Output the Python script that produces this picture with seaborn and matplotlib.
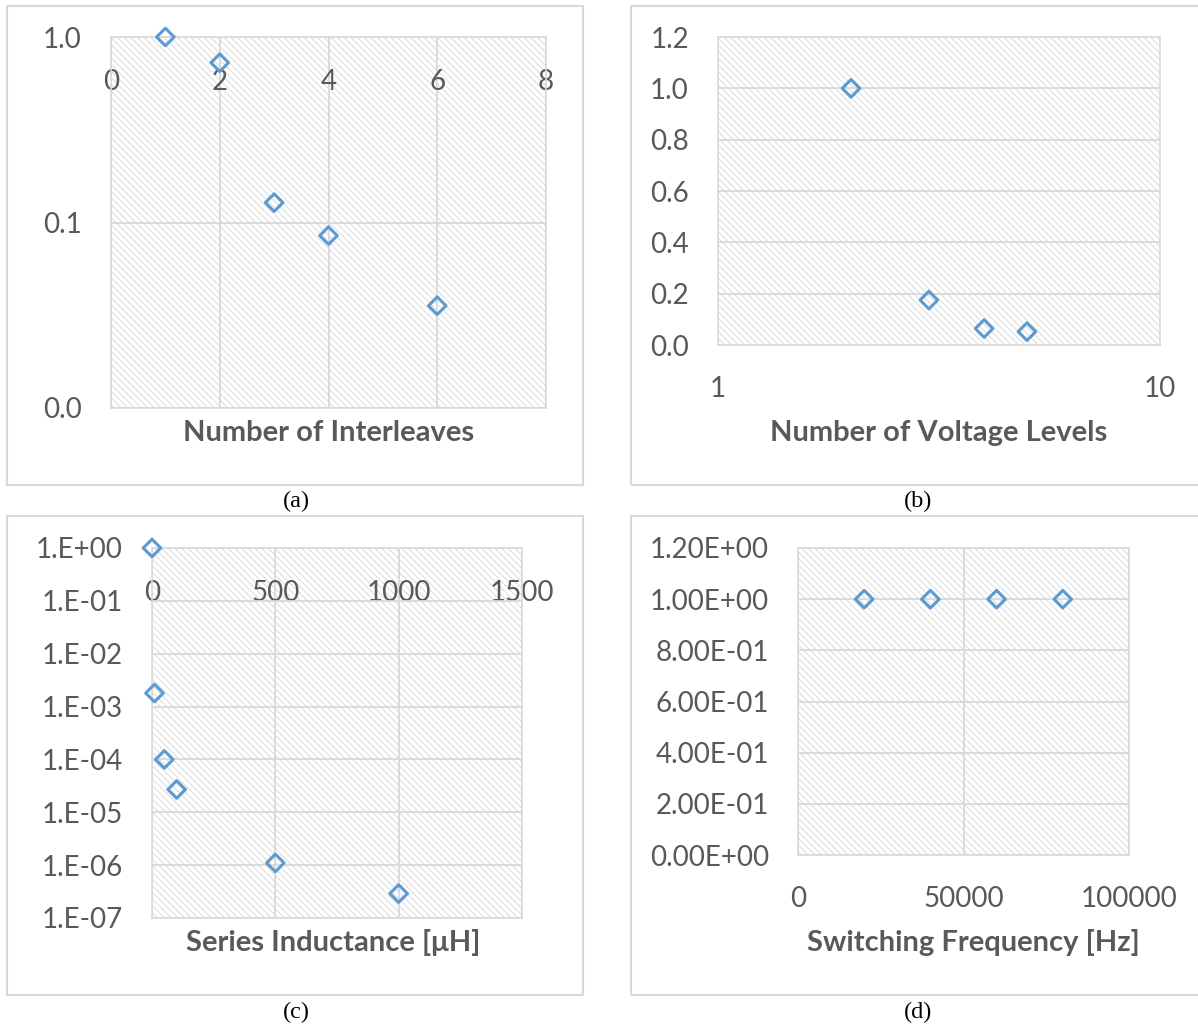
import numpy as np
import seaborn as sns
import matplotlib.pyplot as plt
import matplotlib.ticker as ticker
from matplotlib.patches import Rectangle

# (a) number of interleaves
interleaves = [1, 2, 3, 4, 6]
interleave_vals = [1.0, 0.727, 0.128, 0.085, 0.0356]

# (b) number of voltage levels
levels = [2, 3, 4, 5]
level_vals = [1.0, 0.175, 0.064, 0.052]

# (c) series inductance [uH]
inductance = [0, 10, 50, 100, 500, 1000]
inductance_vals = [1.0, 1.8e-3, 1.0e-4, 2.7e-5, 1.1e-6, 2.9e-7]

# (d) switching frequency [Hz]
frequency = [20000, 40000, 60000, 80000]
frequency_vals = [1.0, 1.0, 1.0, 1.0]

captions = ['(a)', '(b)', '(c)', '(d)']
xlabels = ['Number of Interleaves', 'Number of Voltage Levels',
           'Series Inductance [μH]', 'Switching Frequency [Hz]']

BLUE = '#5B9BD5'
GREY_TXT = '#595959'
GRID = '#d9d9d9'
HATCH = '#d4d4d4'

sns.set_style('white')
plt.rcParams['font.family'] = ['Lato', 'DejaVu Sans']
plt.rcParams['hatch.color'] = HATCH
plt.rcParams['hatch.linewidth'] = 0.6

W, H = 1198, 1027
fig = plt.figure(figsize=(W / 100, H / 100), dpi=100)


def px_axes(x0, y0, x1, y1):
    return fig.add_axes([x0 / W, 1 - y1 / H, (x1 - x0) / W, (y1 - y0) / H])


def px_box(x0, y0, x1, y1):
    fig.add_artist(Rectangle((x0 / W, 1 - y1 / H), (x1 - x0) / W, (y1 - y0) / H,
                             transform=fig.transFigure, fill=False,
                             edgecolor=GRID, linewidth=1.5))


# outer chart frames
px_box(7, 6, 583, 485)
px_box(631, 6, 1210, 485)
px_box(7, 516, 583, 995)
px_box(631, 516, 1210, 995)

# captions
for (cx, cy), cap in zip([(296, 501), (918, 501), (296, 1012), (918, 1012)], captions):
    fig.text(cx / W, 1 - cy / H, cap, ha='center', va='center',
             fontsize=17.5, family='Liberation Serif', color='black')

ax_a = px_axes(111, 37, 546, 408)
ax_b = px_axes(718, 37, 1160, 345)
ax_c = px_axes(152, 548, 522, 918)
ax_d = px_axes(798, 548, 1129, 855)

series = [(ax_a, interleaves, interleave_vals),
          (ax_b, levels, level_vals),
          (ax_c, inductance, inductance_vals),
          (ax_d, frequency, frequency_vals)]

for ax, xs, ys in series:
    ax.patch.set_facecolor('white')
    # hatched plot-area fill like the Excel pattern
    ax.add_patch(Rectangle((0, 0), 1, 1, transform=ax.transAxes,
                           facecolor='none', edgecolor=HATCH, linewidth=0,
                           hatch='\\\\\\\\\\', zorder=0.2))
    for sp in ax.spines.values():
        sp.set_visible(True)
        sp.set_color(GRID)
        sp.set_linewidth(1.2)
    sns.scatterplot(x=xs, y=ys, ax=ax, marker='D', s=80, color=BLUE,
                    facecolor='none', edgecolor=BLUE, linewidth=2.2,
                    clip_on=False, zorder=5)
    ax.set_axisbelow(True)
    ax.tick_params(length=0, labelsize=20, labelcolor=GREY_TXT)
    ax.tick_params(axis='y', pad=21)

# (a)
ax_a.set_yscale('log')
ax_a.set_ylim(0.01, 1)
ax_a.set_yticks([0.01, 0.1, 1])
ax_a.yaxis.set_minor_locator(ticker.NullLocator())
ax_a.yaxis.set_major_formatter(ticker.FuncFormatter(lambda v, _: f'{v:.1f}'))
ax_a.set_xlim(0, 8)
ax_a.set_xticks(range(0, 9, 2))
ax_a.tick_params(axis='x', bottom=False, labelbottom=False, top=False,
                 labeltop=True, pad=-42)
ax_a.grid(True, color=GRID, linewidth=1.3)

# (b)
ax_b.set_xscale('log')
ax_b.set_xlim(1, 10)
ax_b.set_xticks([1, 10])
ax_b.xaxis.set_minor_locator(ticker.NullLocator())
ax_b.xaxis.set_major_formatter(ticker.FuncFormatter(lambda v, _: f'{v:g}'))
ax_b.set_ylim(0, 1.2)
ax_b.set_yticks(np.arange(0, 1.21, 0.2))
ax_b.yaxis.set_major_formatter(ticker.FuncFormatter(lambda v, _: f'{v:.1f}'))
ax_b.tick_params(axis='x', pad=22)
ax_b.grid(True, axis='y', color=GRID, linewidth=1.3)

# (c)
ax_c.set_yscale('log')
ax_c.set_ylim(1e-7, 1)
ax_c.set_yticks([10.0 ** k for k in range(-7, 1)])
ax_c.yaxis.set_minor_locator(ticker.NullLocator())
ax_c.yaxis.set_major_formatter(
    ticker.FuncFormatter(lambda v, _: f'1.E{int(round(np.log10(v))):+03d}'))
ax_c.set_xlim(0, 1500)
ax_c.set_xticks(range(0, 1501, 500))
ax_c.tick_params(axis='x', bottom=False, labelbottom=False, top=False,
                 labeltop=True, pad=-42)
ax_c.grid(True, color=GRID, linewidth=1.3)

# (d)
ax_d.set_ylim(0, 1.2)
ax_d.set_yticks(np.arange(0, 1.21, 0.2))
ax_d.yaxis.set_major_formatter(ticker.FuncFormatter(lambda v, _: f'{v:.2E}'))
ax_d.set_xlim(0, 100000)
ax_d.set_xticks([0, 50000, 100000])
ax_d.xaxis.set_major_formatter(ticker.FuncFormatter(lambda v, _: f'{v:.0f}'))
ax_d.tick_params(axis='x', pad=22)
ax_d.grid(True, color=GRID, linewidth=1.3)

# axis titles
label_pos = [(0.5, -25 / 371), (0.5, -88 / 308), (0.489, -25 / 370), (0.529, -88 / 307)]
for ax, lab, (lx, ly) in zip([ax_a, ax_b, ax_c, ax_d], xlabels, label_pos):
    ax.set_xlabel(lab, fontsize=21, fontweight='bold', color=GREY_TXT, va='center')
    ax.xaxis.set_label_coords(lx, ly)
    ax.set_ylabel('')

fig.savefig('out.png', dpi=100, facecolor='white')
